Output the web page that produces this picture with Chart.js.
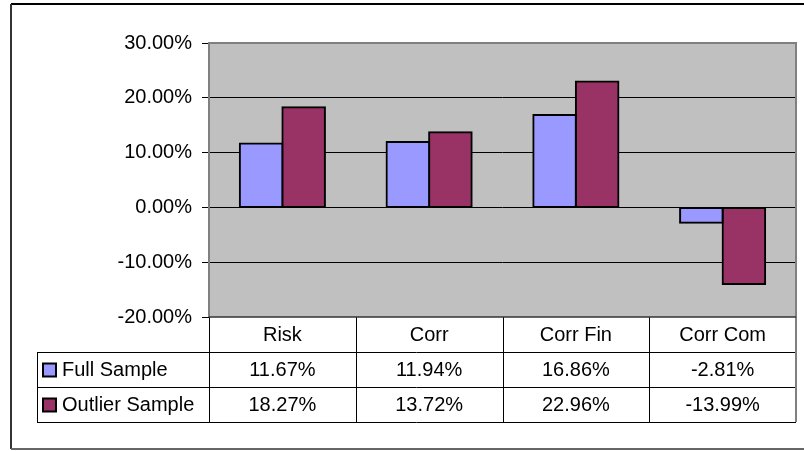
<!DOCTYPE html>
<html>
<head>
<meta charset="utf-8">
<script src="https://cdn.jsdelivr.net/npm/chart.js@4/dist/chart.umd.min.js"></script>
<style>
    body{margin:0;background:#fff;}
    canvas{display:block;}
</style>
</head>
<body>
<canvas id="grafico" width="804" height="451"></canvas>
<script>
let categorias=['Risk','Corr','Corr Fin','Corr Com'];
let series=['Full Sample','Outlier Sample'];
let fullSample=[11.67,11.94,16.86,-2.81];
let outlierSample=[18.27,13.72,22.96,-13.99];
let ticksY=[-20,-10,0,10,20,30];

let colores=['#9999FF','#993366'];
let fuente='20px "Liberation Sans", Arial, sans-serif';

function porcentaje(v){
    return v.toFixed(2)+'%';
}

// fondo gris del area, marco y tabla de datos
let tablaPlugin={
    id:'tabla',
    beforeDraw(chart){
        let ctx=chart.ctx;
        let a=chart.chartArea;
        ctx.save();
        ctx.fillStyle='#C0C0C0';
        ctx.fillRect(a.left,a.top,a.right-a.left,a.bottom-a.top);
        ctx.restore();
    },
    afterDraw(chart){
        let ctx=chart.ctx;
        let a=chart.chartArea;
        let x=chart.scales.x;
        let ancho=(a.right-a.left)/categorias.length;
        let fila=35;
        let y0=a.bottom;
        let izq=37;
        ctx.save();
        // marco exterior
        ctx.lineWidth=2;
        ctx.strokeStyle='#000';
        ctx.beginPath();ctx.moveTo(11,4);ctx.lineTo(804,4);ctx.stroke();
        ctx.strokeStyle='#333';
        ctx.beginPath();ctx.moveTo(11,4);ctx.lineTo(11,449);ctx.stroke();
        ctx.strokeStyle='#666';
        ctx.beginPath();ctx.moveTo(11,449);ctx.lineTo(804,449);ctx.stroke();

        // lineas de la tabla
        ctx.strokeStyle='#000';
        ctx.lineWidth=1;
        for(let i=0;i<categorias.length;i++){
            let xl=Math.round(x.getPixelForValue(i)-ancho/2)+0.5;
            ctx.beginPath();ctx.moveTo(xl,y0);ctx.lineTo(xl,y0+fila*3);ctx.stroke();
        }
        for(let r=1;r<=3;r++){
            let yy=Math.round(y0+fila*r)+0.5;
            ctx.beginPath();ctx.moveTo(izq,yy);ctx.lineTo(a.right,yy);ctx.stroke();
        }
        ctx.beginPath();ctx.moveTo(izq+0.5,y0+fila);ctx.lineTo(izq+0.5,y0+fila*3);ctx.stroke();

        // borde gris del area
        ctx.strokeStyle='#808080';
        ctx.lineWidth=2;
        ctx.beginPath();
        ctx.moveTo(a.left,a.bottom);
        ctx.lineTo(a.left,a.top);
        ctx.lineTo(a.right,a.top);
        ctx.lineTo(a.right,y0+fila*3);
        ctx.stroke();
        ctx.strokeStyle='#333';
        ctx.lineWidth=1.5;
        ctx.beginPath();ctx.moveTo(a.left,a.bottom);ctx.lineTo(a.right,a.bottom);ctx.stroke();

        // textos
        ctx.fillStyle='#000';
        ctx.font=fuente;
        ctx.textAlign='center';
        ctx.textBaseline='middle';
        let datos=[fullSample,outlierSample];
        categorias.forEach((c,i)=>{
            let cx=x.getPixelForValue(i);
            ctx.fillText(c,cx,y0+fila/2+1);
            datos.forEach((d,s)=>{
                ctx.fillText(porcentaje(d[i]),cx,y0+fila*(s+1)+fila/2+1);
            });
        });
        // leyenda en la tabla
        ctx.textAlign='left';
        series.forEach((n,s)=>{
            let cy=y0+fila*(s+1)+fila/2;
            ctx.fillStyle=colores[s];
            ctx.fillRect(43,cy-6,13,13);
            ctx.strokeStyle='#000';
            ctx.lineWidth=2;
            ctx.strokeRect(43,cy-6,13,13);
            ctx.fillStyle='#000';
            ctx.fillText(n,62,cy+1);
        });
        ctx.restore();
    }
};

let canvasG=document.getElementById('grafico').getContext('2d');
let datos={
    labels:categorias,
    datasets:[
        {
            label:series[0],
            data:fullSample,
            backgroundColor:colores[0],
            borderColor:'#000',
            borderWidth:2,
            borderSkipped:false,
            inflateAmount:1
        },
        {
            label:series[1],
            data:outlierSample,
            backgroundColor:colores[1],
            borderColor:'#000',
            borderWidth:2,
            borderSkipped:false,
            inflateAmount:1
        }
    ]
};
let opciones={
    responsive:false,
    animation:false,
    devicePixelRatio:1,
    layout:{padding:{left:0,right:8,top:43,bottom:134}},
    categoryPercentage:0.58,
    barPercentage:1,
    plugins:{
        legend:{display:false},
        tooltip:{enabled:false}
    },
    scales:{
        x:{display:false},
        y:{
            min:-20,
            max:30,
            afterFit(scale){scale.width=209;},
            afterBuildTicks(scale){scale.ticks=ticksY.map(v=>({value:v}));},
            border:{display:false},
            grid:{
                color(c){return (c.tick.value==30||c.tick.value==-20)?'rgba(0,0,0,0)':'#000';},
                tickColor:'#000',
                tickLength:7,
                lineWidth:1
            },
            ticks:{
                color:'#000',
                padding:10,
                font:{family:'"Liberation Sans", Arial, sans-serif',size:20},
                callback(v){return porcentaje(v);}
            }
        }
    }
};
let G=new Chart(canvasG,{
    type:'bar',
    data:datos,
    options:opciones,
    plugins:[tablaPlugin]
});
</script>
</body>
</html>
